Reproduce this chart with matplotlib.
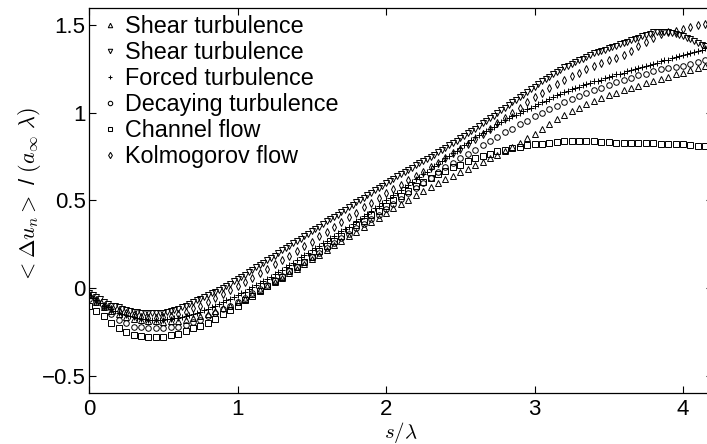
import matplotlib
matplotlib.use("Agg")
import matplotlib.pyplot as plt
from matplotlib.lines import Line2D

plt.rcParams['font.family'] = ['Liberation Sans', 'DejaVu Sans']
plt.rcParams['mathtext.fontset'] = 'cm'

# s / lambda sample positions (coarse grid, step 0.05; fine grid, step 0.025)
s = [round(0.05 * i, 3) for i in range(84)]
s_fine = [round(0.025 * i, 3) for i in range(167)]

shear_up = [-0.04, -0.08, -0.11, -0.13, -0.15, -0.165, -0.175, -0.185, -0.19, -0.19,
            -0.195, -0.19, -0.19, -0.18, -0.17, -0.16, -0.15, -0.13, -0.115, -0.10,
            -0.08, -0.06, -0.035, -0.01, 0.01, 0.035, 0.06, 0.085, 0.11, 0.14,
            0.165, 0.19, 0.22, 0.245, 0.27, 0.295, 0.32, 0.35, 0.375, 0.40,
            0.43, 0.455, 0.48, 0.505, 0.53, 0.555, 0.575, 0.60, 0.62, 0.64,
            0.66, 0.68, 0.70, 0.72, 0.74, 0.76, 0.78, 0.805, 0.83, 0.855,
            0.88, 0.91, 0.935, 0.965, 0.99, 1.01, 1.03, 1.05, 1.07, 1.085,
            1.10, 1.115, 1.13, 1.145, 1.155, 1.17, 1.18, 1.195, 1.205, 1.22,
            1.23, 1.245, 1.255, 1.27]

# fine grid (dense markers in the reference)
shear_down = [-0.03, -0.04, -0.05, -0.065, -0.08, -0.09, -0.10, -0.105, -0.11, -0.118,
              -0.125, -0.13, -0.135, -0.138, -0.14, -0.143, -0.145, -0.145, -0.145, -0.143,
              -0.14, -0.135, -0.13, -0.125, -0.12, -0.11, -0.10, -0.09, -0.08, -0.07,
              -0.06, -0.05, -0.04, -0.03, -0.02, -0.01, 0.00, 0.012, 0.025, 0.038,
              0.05, 0.062, 0.075, 0.09, 0.105, 0.118, 0.13, 0.145, 0.16, 0.172,
              0.185, 0.20, 0.215, 0.228, 0.24, 0.255, 0.27, 0.282, 0.295, 0.31,
              0.325, 0.338, 0.35, 0.365, 0.38, 0.392, 0.405, 0.42, 0.435, 0.448,
              0.46, 0.475, 0.49, 0.502, 0.515, 0.53, 0.545, 0.558, 0.57, 0.585,
              0.60, 0.612, 0.625, 0.638, 0.65, 0.662, 0.675, 0.688, 0.70, 0.712,
              0.725, 0.738, 0.75, 0.762, 0.775, 0.788, 0.80, 0.815, 0.83, 0.842,
              0.855, 0.87, 0.885, 0.898, 0.91, 0.925, 0.94, 0.955, 0.97, 0.985,
              1.00, 1.015, 1.03, 1.045, 1.06, 1.075, 1.09, 1.105, 1.12, 1.135,
              1.15, 1.165, 1.18, 1.192, 1.205, 1.22, 1.235, 1.248, 1.26, 1.27,
              1.28, 1.29, 1.30, 1.31, 1.32, 1.33, 1.34, 1.348, 1.355, 1.362,
              1.37, 1.378, 1.385, 1.392, 1.40, 1.408, 1.415, 1.422, 1.43, 1.438,
              1.445, 1.452, 1.46, 1.463, 1.465, 1.463, 1.46, 1.455, 1.45, 1.445,
              1.44, 1.43, 1.42, 1.41, 1.40, 1.39, 1.38]

# fine grid (dense markers in the reference)
forced = [-0.04, -0.055, -0.07, -0.085, -0.10, -0.11, -0.12, -0.13, -0.14, -0.148,
          -0.155, -0.16, -0.165, -0.17, -0.175, -0.178, -0.18, -0.18, -0.18, -0.18,
          -0.18, -0.178, -0.175, -0.172, -0.17, -0.165, -0.16, -0.155, -0.15, -0.142,
          -0.135, -0.128, -0.12, -0.11, -0.10, -0.09, -0.08, -0.07, -0.06, -0.05,
          -0.04, -0.03, -0.02, -0.008, 0.005, 0.018, 0.03, 0.04, 0.05, 0.065,
          0.08, 0.092, 0.105, 0.118, 0.13, 0.145, 0.16, 0.175, 0.19, 0.202,
          0.215, 0.228, 0.24, 0.255, 0.27, 0.285, 0.30, 0.312, 0.325, 0.338,
          0.35, 0.365, 0.38, 0.395, 0.41, 0.425, 0.44, 0.455, 0.47, 0.485,
          0.50, 0.515, 0.53, 0.545, 0.56, 0.575, 0.59, 0.605, 0.62, 0.635,
          0.65, 0.665, 0.68, 0.695, 0.71, 0.725, 0.74, 0.755, 0.77, 0.785,
          0.80, 0.815, 0.83, 0.845, 0.86, 0.872, 0.885, 0.898, 0.91, 0.922,
          0.935, 0.948, 0.96, 0.97, 0.98, 0.99, 1.00, 1.01, 1.02, 1.03,
          1.04, 1.05, 1.06, 1.07, 1.08, 1.09, 1.10, 1.11, 1.12, 1.128,
          1.135, 1.142, 1.15, 1.158, 1.165, 1.172, 1.18, 1.185, 1.19, 1.198,
          1.205, 1.212, 1.22, 1.225, 1.23, 1.238, 1.245, 1.25, 1.255, 1.262,
          1.27, 1.275, 1.28, 1.288, 1.295, 1.30, 1.305, 1.312, 1.32, 1.325,
          1.33, 1.338, 1.345, 1.35, 1.355, 1.362, 1.37]

decaying = [-0.06, -0.08, -0.11, -0.15, -0.18, -0.20, -0.22, -0.225, -0.23, -0.23,
            -0.23, -0.225, -0.22, -0.21, -0.195, -0.18, -0.16, -0.14, -0.12, -0.10,
            -0.08, -0.055, -0.03, -0.005, 0.02, 0.045, 0.07, 0.095, 0.12, 0.15,
            0.175, 0.20, 0.23, 0.255, 0.285, 0.31, 0.34, 0.365, 0.395, 0.42,
            0.45, 0.48, 0.51, 0.54, 0.57, 0.60, 0.63, 0.66, 0.69, 0.715,
            0.74, 0.765, 0.79, 0.815, 0.84, 0.865, 0.89, 0.91, 0.935, 0.955,
            0.98, 1.00, 1.02, 1.04, 1.06, 1.08, 1.095, 1.115, 1.13, 1.145,
            1.16, 1.175, 1.19, 1.20, 1.215, 1.225, 1.24, 1.25, 1.255, 1.265,
            1.27, 1.28, 1.29, 1.30]

channel = [-0.10, -0.13, -0.16, -0.20, -0.23, -0.25, -0.27, -0.275, -0.28, -0.28,
           -0.28, -0.27, -0.26, -0.245, -0.23, -0.215, -0.20, -0.175, -0.15, -0.125,
           -0.10, -0.07, -0.045, -0.015, 0.01, 0.04, 0.065, 0.095, 0.12, 0.15,
           0.18, 0.21, 0.24, 0.27, 0.30, 0.33, 0.36, 0.385, 0.415, 0.44,
           0.47, 0.50, 0.525, 0.555, 0.58, 0.605, 0.63, 0.65, 0.67, 0.69,
           0.705, 0.725, 0.74, 0.755, 0.765, 0.78, 0.79, 0.80, 0.805, 0.815,
           0.82, 0.825, 0.83, 0.835, 0.84, 0.84, 0.84, 0.84, 0.84, 0.835,
           0.835, 0.83, 0.83, 0.83, 0.83, 0.83, 0.83, 0.825, 0.825, 0.82,
           0.82, 0.815, 0.81, 0.81]

kolmogorov = [-0.04, -0.07, -0.10, -0.12, -0.13, -0.145, -0.155, -0.165, -0.17, -0.17,
              -0.165, -0.16, -0.15, -0.135, -0.115, -0.10, -0.08, -0.055, -0.035, -0.01,
              0.01, 0.035, 0.06, 0.085, 0.11, 0.135, 0.16, 0.185, 0.21, 0.24,
              0.265, 0.295, 0.32, 0.35, 0.375, 0.405, 0.43, 0.46, 0.485, 0.515,
              0.54, 0.565, 0.59, 0.615, 0.64, 0.665, 0.69, 0.715, 0.74, 0.77,
              0.795, 0.825, 0.85, 0.88, 0.91, 0.94, 0.97, 1.00, 1.03, 1.06,
              1.09, 1.115, 1.14, 1.165, 1.19, 1.21, 1.23, 1.25, 1.27, 1.285,
              1.30, 1.315, 1.33, 1.355, 1.38, 1.405, 1.43, 1.45, 1.46, 1.47,
              1.48, 1.49, 1.50, 1.51]

labels = ["Shear turbulence", "Shear turbulence", "Forced turbulence",
          "Decaying turbulence", "Channel flow", "Kolmogorov flow"]
series = [(s, shear_up), (s_fine, shear_down), (s_fine, forced),
          (s, decaying), (s, channel), (s, kolmogorov)]
markers = ['^', 'v', '+', 'o', 's', 'd']
sizes = [4.0, 4.0, 4.5, 4.0, 4.0, 4.0]

xticks = [0, 1, 2, 3, 4]
yticks = [-0.5, 0, 0.5, 1, 1.5]
xtick_labels = ['0', '1', '2', '3', '4']
ytick_labels = ['\u22120.5', '0', '0.5', '1', '1.5']

FS = 16
LFS = 16.8
fig = plt.figure(figsize=(7.07, 4.44), dpi=100)
AX_W = 4.2 * 148.5
ax = fig.add_axes([89/707, 51/444, AX_W/707, 385/444])

for (x, y), m, ms in zip(series, markers, sizes):
    ax.plot(x, y, linestyle='none', marker=m, markersize=ms,
            markerfacecolor='none', markeredgecolor='black', markeredgewidth=0.7)

handles = [Line2D([], [], linestyle='none', marker=m, markersize=3.2,
                  markerfacecolor='none', markeredgecolor='black', markeredgewidth=0.75)
           for m in markers]
ax.legend(handles, labels, loc='upper left', frameon=False, fontsize=LFS,
          handlelength=0.6, handletextpad=0.34, labelspacing=0.13,
          borderaxespad=0, borderpad=0,
          bbox_to_anchor=((103 - 89) / AX_W, 1 - 7 / 385))

ax.set_xlim(0, 4.2)
ax.set_ylim(-0.6, 1.6)
ax.set_xticks(xticks)
ax.set_xticklabels(xtick_labels)
ax.set_yticks(yticks)
ax.set_yticklabels(ytick_labels)
ax.tick_params(direction='in', top=True, right=True, length=5, width=0.8,
               labelsize=FS)
ax.tick_params(axis='x', pad=4)
ax.tick_params(axis='y', pad=2.5)
for sp in ax.spines.values():
    sp.set_linewidth(0.9)

ax.set_xlabel(r'$s/\lambda$', fontsize=15, labelpad=0)
ax.set_ylabel(r'$<\Delta u_n>$ / $(a_\infty\ \lambda)$', fontsize=FS)
ax.yaxis.set_label_coords(-0.074, 0.514)

fig.savefig('out.png', dpi=100)
